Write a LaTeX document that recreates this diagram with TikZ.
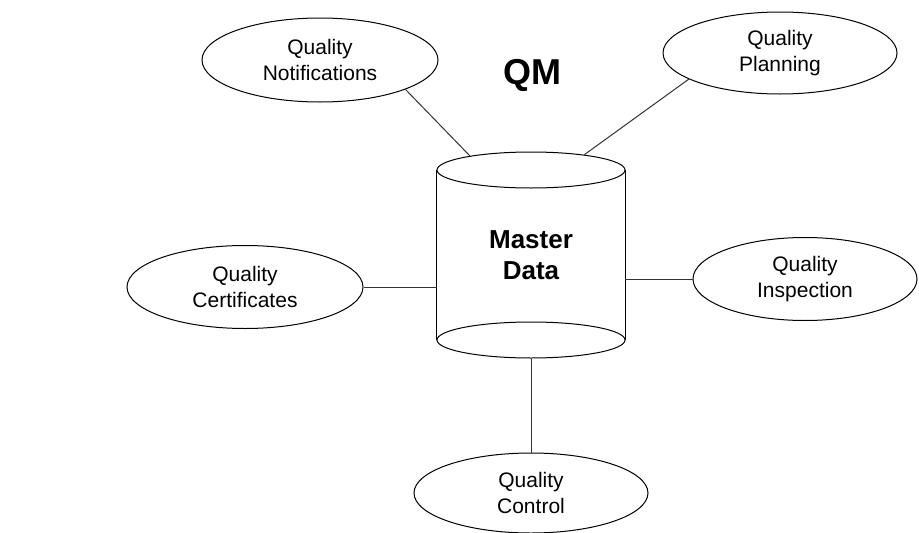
\documentclass[tikz,border=0pt]{standalone}
\usepackage{fontspec}
\setmainfont{Liberation Sans}
\usetikzlibrary{shapes.geometric}
\tikzset{
  oval/.style={ellipse, draw=black, line width=1pt, fill=white, inner sep=0pt, align=center,
    font=\fontsize{21}{26}\selectfont},
  cylend/.style={ellipse, draw=black, line width=1pt, inner sep=0pt, minimum width=188pt, minimum height=36pt},
  link/.style={draw=black!80, line width=1pt},
}
\begin{document}
\begin{tikzpicture}[x=1pt, y=-1pt]
\useasboundingbox (0,0) rectangle (919,533);
% master data cylinder
\node[cylend] (mdtop) at (531,170) {};
\node[cylend] (mdbot) at (531,340) {};
\node[minimum width=188pt, minimum height=170pt, inner sep=0pt, align=center,
  font=\fontsize{26}{31}\selectfont\bfseries] (md) at (531,255) {Master\\Data};
\draw[line width=1pt] (mdtop.west) -- (mdbot.west);
\draw[line width=1pt] (mdtop.east) -- (mdbot.east);
% title
\node[font=\fontsize{36}{40}\selectfont\bfseries, inner sep=0pt] (qm) at (532,75) {QM};
% satellites
\node[oval, minimum width=236pt, minimum height=84pt] (qn) at (320,60) {Quality\\Notifications};
\node[oval, minimum width=234pt, minimum height=82pt] (qp) at (780,53) {Quality\\Planning};
\node[oval, minimum width=236pt, minimum height=83pt] (qc) at (245,287) {Quality\\Certificates};
\node[oval, minimum width=224pt, minimum height=83pt] (qi) at (805,279) {Quality\\Inspection};
\node[oval, minimum width=234pt, minimum height=80pt] (qk) at (531,493) {Quality\\Control};
% connectors
\draw[link] (qn.-19) -- (mdtop.167);
\draw[link] (qp.196) -- (mdtop.16);
\draw[link] (qc.east) -- (qc.east -| md.west);
\draw[link] (qi.west) -- (qi.west -| md.east);
\draw[link] (mdbot.south) -- (qk.north);
\end{tikzpicture}
\end{document}
